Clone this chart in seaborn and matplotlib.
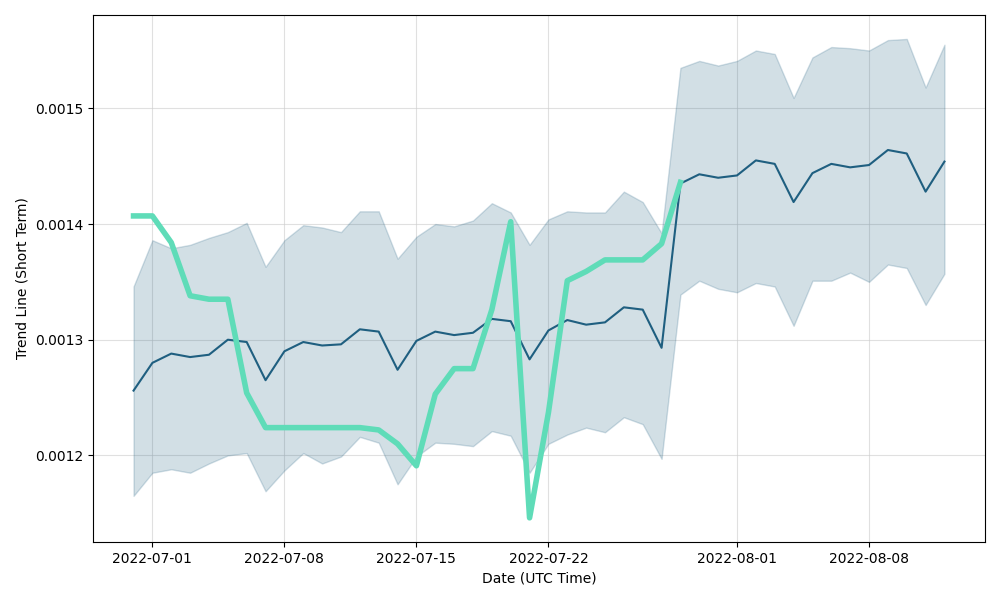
import numpy as np
import pandas as pd
import matplotlib
matplotlib.use("Agg")
import matplotlib.pyplot as plt
import seaborn as sns

dates = pd.date_range("2022-06-30", "2022-08-12", freq="D")

mean_line = [0.001256, 0.001280, 0.001288, 0.001285, 0.001287, 0.001300, 0.001298, 0.001265,
             0.001290, 0.001298, 0.001295, 0.001296, 0.001309, 0.001307, 0.001274, 0.001299,
             0.001307, 0.001304, 0.001306, 0.001318, 0.001316, 0.001283, 0.001308, 0.001317,
             0.001313, 0.001315, 0.001328, 0.001326, 0.001293, 0.001435, 0.001443, 0.001440,
             0.001442, 0.001455, 0.001452, 0.001419, 0.001444, 0.001452, 0.001449, 0.001451,
             0.001464, 0.001461, 0.001428, 0.001454]

upper_band = [0.001346, 0.001386, 0.001379, 0.001382, 0.001388, 0.001393, 0.001401, 0.001363,
              0.001386, 0.001399, 0.001397, 0.001393, 0.001411, 0.001411, 0.001370, 0.001389,
              0.001400, 0.001398, 0.001403, 0.001418, 0.001410, 0.001382, 0.001404, 0.001411,
              0.001410, 0.001410, 0.001428, 0.001419, 0.001392, 0.001535, 0.001541, 0.001537,
              0.001541, 0.001550, 0.001547, 0.001509, 0.001544, 0.001553, 0.001552, 0.001550,
              0.001559, 0.001560, 0.001518, 0.001555]

lower_band = [0.001165, 0.001185, 0.001188, 0.001185, 0.001193, 0.001200, 0.001202, 0.001169,
              0.001187, 0.001202, 0.001193, 0.001199, 0.001216, 0.001211, 0.001175, 0.001199,
              0.001211, 0.001210, 0.001208, 0.001221, 0.001217, 0.001185, 0.001210, 0.001218,
              0.001224, 0.001220, 0.001233, 0.001227, 0.001197, 0.001339, 0.001351, 0.001344,
              0.001341, 0.001349, 0.001346, 0.001312, 0.001351, 0.001351, 0.001358, 0.001350,
              0.001365, 0.001362, 0.001330, 0.001357]

trend_short = [0.001407, 0.001407, 0.001384, 0.001338, 0.001335, 0.001335, 0.001254, 0.001224,
               0.001224, 0.001224, 0.001224, 0.001224, 0.001224, 0.001222, 0.001210, 0.001191,
               0.001253, 0.001275, 0.001275, 0.001326, 0.001402, 0.001146, 0.001237, 0.001351,
               0.001359, 0.001369, 0.001369, 0.001369, 0.001383, 0.001436]

blue = "#1f5f80"
green = "#5fdcb8"

df = pd.DataFrame({"date": dates, "mean": mean_line, "upper": upper_band, "lower": lower_band})
dft = pd.DataFrame({"date": dates[:len(trend_short)], "trend": trend_short})

fig, ax = plt.subplots(figsize=(10, 6), dpi=100)
ax.fill_between(df["date"], df["lower"], df["upper"], color=blue, alpha=0.2, linewidth=1)
sns.lineplot(data=df, x="date", y="mean", ax=ax, color=blue, linewidth=1.5)
sns.lineplot(data=dft, x="date", y="trend", ax=ax, color=green, linewidth=4)
ax.grid(True, color="#cccccc", alpha=0.6, linewidth=0.8)
ax.set_axisbelow(True)
ax.set_xlabel("Date (UTC Time)")
ax.set_ylabel("Trend Line (Short Term)")
fig.subplots_adjust(left=0.093, right=0.985, top=0.975, bottom=0.097)
fig.savefig("out.png", dpi=100)
